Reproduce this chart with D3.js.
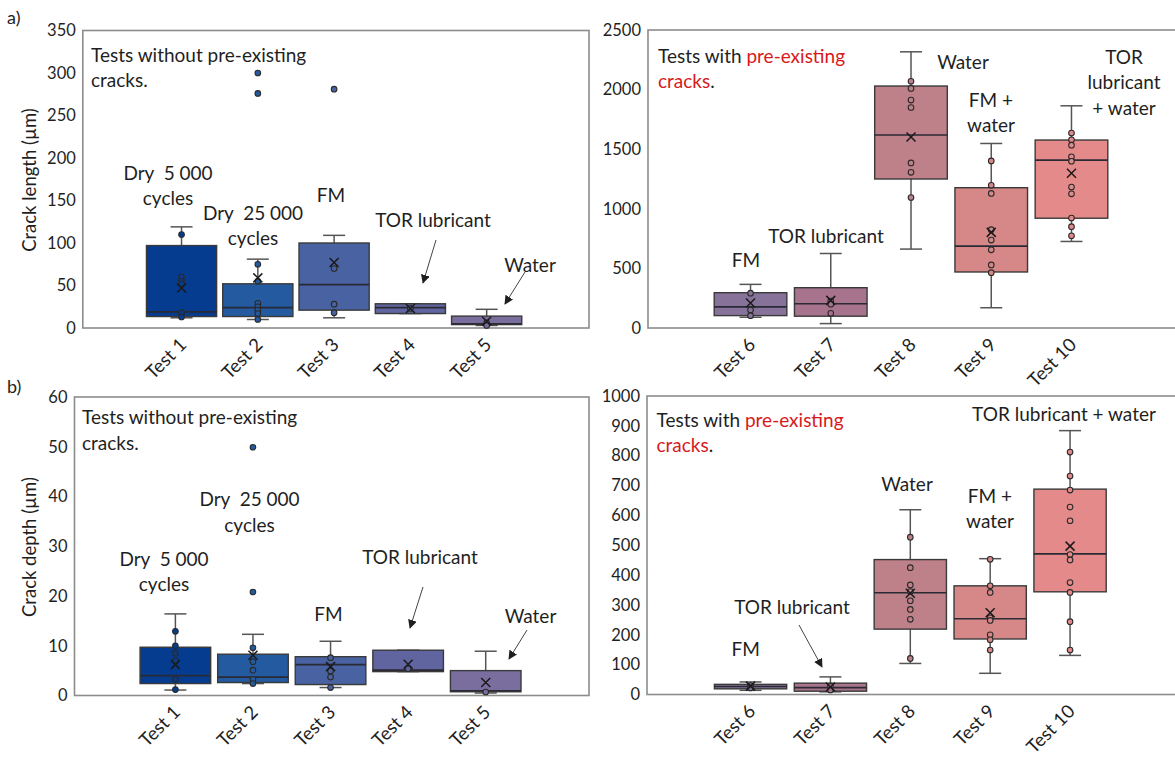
<!DOCTYPE html>
<html>
<head>
<meta charset="utf-8">
<script src="https://cdn.jsdelivr.net/npm/d3@7"></script>
<style>
  body { margin: 0; background: #fff; }
  svg { display: block; }
  text { font-family: Lato, "Open Sans", sans-serif; fill: #1f1f1f; white-space: pre; }
</style>
</head>
<body>
<svg id="chart" width="1175" height="761"></svg>
<script>
// ---- categories ----
const testsNoCrack  = ["Test 1", "Test 2", "Test 3", "Test 4", "Test 5"];
const testsPreCrack = ["Test 6", "Test 7", "Test 8", "Test 9", "Test 10"];

// ---- box summaries: [whisker low, Q1, median, Q3, whisker high, mean] ----
const lengthNoCrackBoxes = [
  [12, 13.5, 19, 97, 119, 47],
  [10, 13.5, 24, 52, 81, 59],
  [12, 21, 51, 100, 109, 77],
  [17, 17, 24, 28.5, 28.5, 23],
  [3, 4, 5, 14, 22, 8]
];
const lengthPreCrackBoxes = [
  [90, 104, 177, 296, 366, 209],
  [37, 99, 203, 338, 625, 232],
  [662, 1250, 1619, 2030, 2317, 1602],
  [170, 470, 687, 1177, 1548, 802],
  [726, 921, 1408, 1577, 1864, 1298]
];
const depthNoCrackBoxes = [
  [1.1, 2.4, 4.0, 9.7, 16.4, 6.2],
  [2.4, 2.6, 3.7, 8.3, 12.3, 8.1],
  [1.6, 2.2, 6.2, 7.8, 10.9, 5.8],
  [4.8, 4.8, 5.1, 9.1, 9.1, 6.3],
  [0.5, 0.75, 0.95, 5.0, 8.9, 2.6]
];
const depthPreCrackBoxes = [
  [14, 19, 27, 34, 42, 28],
  [9, 11, 23, 38, 59, 25],
  [104, 219, 341, 452, 619, 339],
  [71, 186, 254, 364, 455, 274],
  [131, 344, 471, 688, 884, 497]
];

// ---- individual measurements ----
const lengthNoCrackPoints = [
  [110, 60, 55, 52, 18, 13],
  [300, 276, 75, 55, 29, 25, 21, 17, 10],
  [281, 70, 28, 18],
  [23],
  [6, 3]
];
const lengthPreCrackPoints = [
  [292, 151, 103],
  [226, 200, 123],
  [2070, 2010, 1912, 1850, 1385, 1306, 1095],
  [1402, 1197, 1129, 825, 738, 656, 529, 464],
  [1636, 1579, 1534, 1436, 1399, 1182, 1126, 923, 850, 774]
];
const depthNoCrackPoints = [
  [12.9, 10, 8.5, 7, 3.25, 1.2],
  [49.9, 20.8, 9.6, 6.8, 5.1, 3.25, 2.4],
  [7.6, 4.9, 3.7, 1.6],
  [5.4],
  [0.7]
];
const depthPreCrackPoints = [
  [30, 22],
  [28, 15],
  [527, 425, 367, 345, 314, 285, 252, 121],
  [453, 364, 342, 257, 248, 200, 183, 149],
  [812, 732, 685, 628, 582, 469, 451, 375, 342, 244, 149]
];

// ---- axis ticks ----
const lengthNoCrackTicks  = [0, 50, 100, 150, 200, 250, 300, 350];
const lengthPreCrackTicks = [0, 500, 1000, 1500, 2000, 2500];
const depthNoCrackTicks   = [0, 10, 20, 30, 40, 50, 60];
const depthPreCrackTicks  = [0, 100, 200, 300, 400, 500, 600, 700, 800, 900, 1000];

// ---- fills ----
const colorsNoCrack  = ["#053c90", "#235aa0", "#4862a2", "#61659f", "#7a6e9f"];
const colorsPreCrack = ["#87739a", "#a8748d", "#be8089", "#d68787", "#e58a8a"];

const svg = d3.select("#chart");

// arrowhead used by the annotation pointers
svg.append("defs").append("marker")
  .attr("id", "arrowhead")
  .attr("viewBox", "0 0 10 10")
  .attr("refX", 9).attr("refY", 5)
  .attr("markerWidth", 9).attr("markerHeight", 9)
  .attr("markerUnits", "userSpaceOnUse")
  .attr("orient", "auto")
  .append("path").attr("d", "M0,0 L10,5 L0,10 z").attr("fill", "#1f1f1f");

function drawPanel(cfg) {
  const g = svg.append("g");
  const y = d3.scaleLinear().domain(cfg.domain).range([cfg.bottom, cfg.top]);
  const x = d3.scaleBand().domain(cfg.tests).range(cfg.band)
    .paddingInner(cfg.pad).paddingOuter(cfg.pad / 2);

  // plot frame
  g.append("rect")
    .attr("x", cfg.left).attr("y", cfg.top)
    .attr("width", cfg.right - cfg.left).attr("height", cfg.bottom - cfg.top)
    .attr("fill", "none").attr("stroke", "#8c8c8c").attr("stroke-width", 1.6);

  // value axis labels
  const ya = g.append("g").attr("transform", `translate(${cfg.left},0)`)
    .call(d3.axisLeft(y).tickValues(cfg.ticks).tickSize(0).tickPadding(7).tickFormat(d3.format("d")));
  ya.select(".domain").remove();
  ya.selectAll("text").style("font-size", "16.5px").style("font-family", "Lato, sans-serif").attr("fill", "#2a2a2a");

  // category labels
  const xa = g.append("g").attr("transform", `translate(0,${cfg.bottom})`)
    .call(d3.axisBottom(x).tickSize(0));
  xa.select(".domain").remove();
  xa.selectAll("text")
    .attr("x", 0).attr("y", 0).attr("dy", 0)
    .attr("text-anchor", "end")
    .attr("transform", "translate(6,18) rotate(-45)")
    .style("font-size", "18.5px").style("font-family", "Lato, sans-serif").attr("fill", "#2a2a2a");

  const bw = x.bandwidth();
  const capHalf = 11;
  cfg.tests.forEach((t, i) => {
    const [lo, q1, med, q3, hi, mean] = cfg.boxes[i];
    const cx = x(t) + bw / 2;
    const bg = g.append("g");
    // whiskers
    bg.append("line").attr("x1", cx).attr("x2", cx).attr("y1", y(hi)).attr("y2", y(q3))
      .attr("stroke", "#555").attr("stroke-width", 1.5);
    bg.append("line").attr("x1", cx).attr("x2", cx).attr("y1", y(q1)).attr("y2", y(lo))
      .attr("stroke", "#555").attr("stroke-width", 1.5);
    bg.append("line").attr("x1", cx - capHalf).attr("x2", cx + capHalf).attr("y1", y(hi)).attr("y2", y(hi))
      .attr("stroke", "#555").attr("stroke-width", 1.5);
    bg.append("line").attr("x1", cx - capHalf).attr("x2", cx + capHalf).attr("y1", y(lo)).attr("y2", y(lo))
      .attr("stroke", "#555").attr("stroke-width", 1.5);
    // box
    bg.append("rect").attr("x", x(t)).attr("y", y(q3))
      .attr("width", bw).attr("height", Math.max(1, y(q1) - y(q3)))
      .attr("fill", cfg.colors[i]).attr("stroke", "#3a3a3a").attr("stroke-width", 1.4);
    // median
    bg.append("line").attr("x1", x(t)).attr("x2", x(t) + bw).attr("y1", y(med)).attr("y2", y(med))
      .attr("stroke", "#2a2a35").attr("stroke-width", 1.6);
    // measurements
    bg.selectAll("circle").data(cfg.points[i]).join("circle")
      .attr("cx", cx).attr("cy", d => y(d)).attr("r", 2.8)
      .attr("fill", cfg.colors[i]).attr("stroke", "#2a2a2a").attr("stroke-width", 1.1);
    // mean marker
    const m = 4.5, my = y(mean);
    bg.append("path")
      .attr("d", `M${cx - m},${my - m}L${cx + m},${my + m}M${cx - m},${my + m}L${cx + m},${my - m}`)
      .attr("stroke", "#1a1a1a").attr("stroke-width", 1.5).attr("fill", "none");
  });
}

drawPanel({
  tests: testsNoCrack, boxes: lengthNoCrackBoxes, points: lengthNoCrackPoints,
  ticks: lengthNoCrackTicks, colors: colorsNoCrack, domain: [0, 350],
  left: 82.8, right: 589, top: 30.5, bottom: 328, band: [143.4, 524.8], pad: 0.08
});
drawPanel({
  tests: testsPreCrack, boxes: lengthPreCrackBoxes, points: lengthPreCrackPoints,
  ticks: lengthPreCrackTicks, colors: colorsPreCrack, domain: [0, 2500],
  left: 648, right: 1190, top: 30, bottom: 328, band: [710.4, 1111.6], pad: 0.095
});
drawPanel({
  tests: testsNoCrack, boxes: depthNoCrackBoxes, points: depthNoCrackPoints,
  ticks: depthNoCrackTicks, colors: colorsNoCrack, domain: [0, 60],
  left: 74.5, right: 589, top: 397, bottom: 695.5, band: [136.6, 524.5], pad: 0.09
});
drawPanel({
  tests: testsPreCrack, boxes: depthPreCrackBoxes, points: depthPreCrackPoints,
  ticks: depthPreCrackTicks, colors: colorsPreCrack, domain: [0, 1000],
  left: 647, right: 1190, top: 396, bottom: 694.5, band: [710.6, 1110], pad: 0.095
});

// ---- panel letters and axis titles ----
svg.append("text").attr("x", 7).attr("y", 24).style("font-size", "18px").text("a)");
svg.append("text").attr("x", 7).attr("y", 393).style("font-size", "18px").text("b)");
svg.append("text").attr("transform", "translate(36,180) rotate(-90)").attr("text-anchor", "middle")
  .style("font-size", "18.5px").text("Crack length (µm)");
svg.append("text").attr("transform", "translate(36,547) rotate(-90)").attr("text-anchor", "middle")
  .style("font-size", "18.5px").text("Crack depth (µm)");

// ---- annotations ----
const labelSize = "19px";
function label(txt, x, y, anchor = "middle") {
  svg.append("text").attr("x", x).attr("y", y).attr("text-anchor", anchor)
    .attr("dominant-baseline", "central").style("font-size", labelSize).text(txt);
}
function mixedLabel(parts, x, y) {
  const t = svg.append("text").attr("x", x).attr("y", y)
    .attr("dominant-baseline", "central").style("font-size", labelSize);
  parts.forEach(([s, c]) => t.append("tspan").attr("fill", c).style("fill", c).text(s));
}
function pointer(x1, y1, x2, y2) {
  svg.append("line").attr("x1", x1).attr("y1", y1).attr("x2", x2).attr("y2", y2)
    .attr("stroke", "#444").attr("stroke-width", 1).attr("marker-end", "url(#arrowhead)");
}
const red = "#d7191c", ink = "#1f1f1f";

// a) without pre-existing cracks
label("Tests without pre-existing", 91, 54, "start");
label("cracks.", 91, 79, "start");
label("Dry  5 000", 168, 172); label("cycles", 168, 197);
label("Dry  25 000", 253, 212); label("cycles", 253, 237);
label("FM", 331, 194);
label("TOR lubricant", 433, 219);
pointer(436, 240, 423, 283);
label("Water", 530, 264);
pointer(525, 272, 505, 304);

// a) with pre-existing cracks
mixedLabel([["Tests with ", ink], ["pre-existing", red]], 658, 55);
mixedLabel([["cracks", red], [".", ink]], 658, 80);
label("Water", 963, 61);
label("FM +", 991, 99); label("water", 991, 124);
label("TOR", 1124, 56); label("lubricant", 1124, 81); label("+ water", 1124, 107);
label("TOR lubricant", 826, 235);
label("FM", 746, 259);

// b) without pre-existing cracks
label("Tests without pre-existing", 82, 416, "start");
label("cracks.", 82, 442, "start");
label("Dry  25 000", 249.5, 498); label("cycles", 249.5, 524);
label("Dry  5 000", 164, 558); label("cycles", 164, 583);
label("TOR lubricant", 420, 556);
pointer(423, 587, 410, 628);
label("FM", 328.5, 613);
label("Water", 530.5, 615);
pointer(527, 630, 509, 659);

// b) with pre-existing cracks
mixedLabel([["Tests with ", ink], ["pre-existing", red]], 656.5, 419);
mixedLabel([["cracks", red], [".", ink]], 656.5, 444);
label("TOR lubricant + water", 1064, 413);
label("Water", 907, 483);
label("FM +", 990, 495); label("water", 990, 520);
label("TOR lubricant", 792, 606);
pointer(799, 625, 822, 667);
label("FM", 745.6, 648);
</script>
</body>
</html>
